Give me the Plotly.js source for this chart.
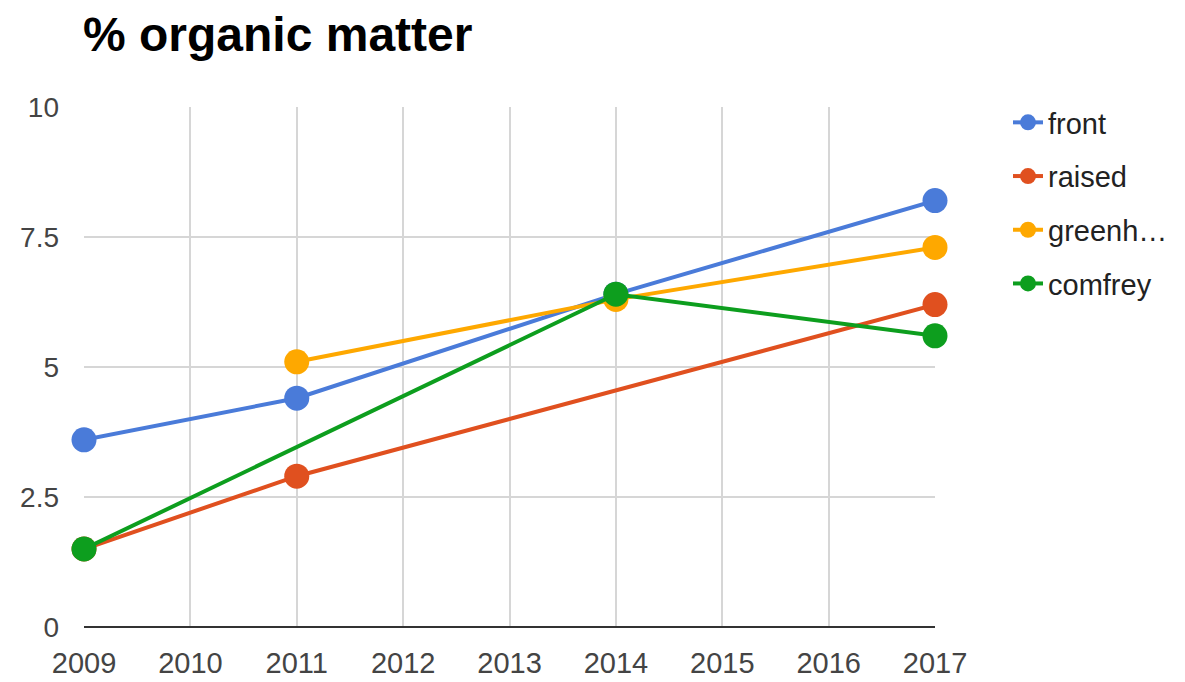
<!DOCTYPE html>
<html>
<head>
<meta charset="utf-8">
<script src="https://cdn.plot.ly/plotly-3.0.1.min.js"></script>
<style>html,body{margin:0;padding:0;background:#fff;}#chart{width:1185px;height:682px;}</style>
</head>
<body>
<div id="chart"></div>
<script>
const years = [2009, 2011, 2014, 2017];
const seriesNames = ['front', 'raised', 'greenh\u2026', 'comfrey'];
const front = [3.6, 4.4, 6.4, 8.2];
const raised = [1.5, 2.9, null, 6.2];
const greenhouse = [null, 5.1, 6.3, 7.3];
const comfrey = [1.5, null, 6.4, 5.6];
const colors = ['#4a7bd9', '#e0501f', '#fea800', '#0d9e1e'];
const xTicks = [2009, 2010, 2011, 2012, 2013, 2014, 2015, 2016, 2017];
const yTicks = [0, 2.5, 5, 7.5, 10];

const values = [front, raised, greenhouse, comfrey];
const traces = values.map((v, i) => ({
  type: 'scatter',
  mode: 'lines+markers',
  x: years,
  y: v,
  name: seriesNames[i],
  legendgroup: 'g' + i,
  connectgaps: true,
  cliponaxis: false,
  line: {color: colors[i], width: 4},
  marker: {color: colors[i], size: 25}
}));

const layout = {
  width: 1185, height: 682,
  margin: {l: 84, r: 250, t: 107, b: 55, pad: 0, autoexpand: false},
  paper_bgcolor: '#fff', plot_bgcolor: '#fff',
  font: {family: 'Arial, "Liberation Sans", sans-serif', color: '#444', size: 28},
  title: {text: '<b>% organic matter</b>', x: 83/1185, xanchor: 'left', xref: 'container', y: 1 - 34/682, yanchor: 'middle', yref: 'container',
          font: {size: 48, color: '#000', family: 'Arial, "Liberation Sans", sans-serif'}},
  xaxis: {range: [2009, 2017], tickvals: xTicks, ticktext: xTicks.map(String), showgrid: true, gridcolor: '#d6d6d6', gridwidth: 2,
          zeroline: false, showline: false, ticks: '', ticklabelstandoff: 16, tickfont: {size: 29, color: '#444'}, fixedrange: true},
  yaxis: {range: [0, 10], tickvals: yTicks, ticktext: yTicks.map(String), showgrid: true, gridcolor: '#d6d6d6', gridwidth: 2,
          zeroline: true, zerolinecolor: '#333', zerolinewidth: 2, showline: false, ticks: '', ticklabelstandoff: 24,
          tickfont: {size: 28, color: '#444'}, fixedrange: true},
  legend: {x: 1008/1185, xref: 'container', xanchor: 'left', y: 1 - 97/682, yref: 'container', yanchor: 'top',
           font: {size: 29, color: '#222'}, tracegroupgap: 13, traceorder: 'grouped', itemwidth: 30, bgcolor: 'rgba(0,0,0,0)'},
  showlegend: true
};

Plotly.newPlot('chart', traces, layout, {displayModeBar: false, staticPlot: true});
</script>
</body>
</html>
